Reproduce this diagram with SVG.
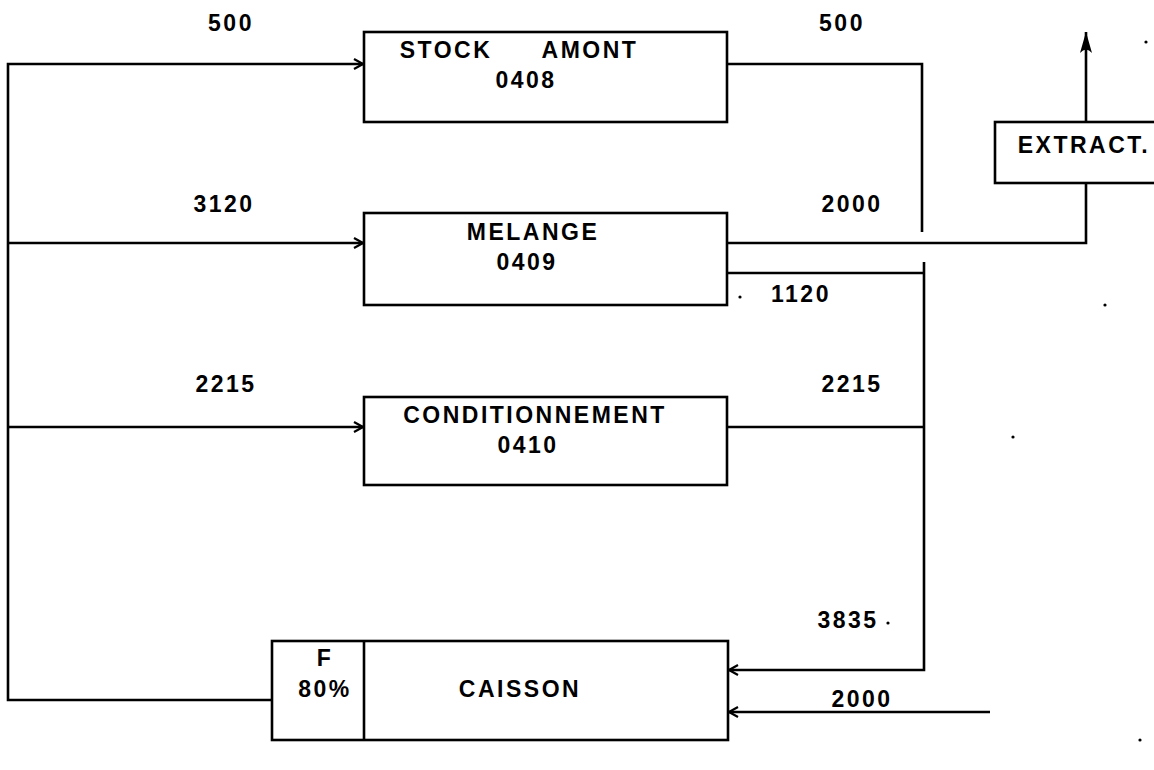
<svg xmlns="http://www.w3.org/2000/svg" width="1154" height="770" viewBox="0 0 1154 770">
<style>
.b{fill:#fff;stroke:#000;stroke-width:2.6}
.c{fill:none;stroke:#000;stroke-width:2.6}
text{font-family:"Liberation Sans",Arial,sans-serif;font-weight:bold;font-size:23px;letter-spacing:2.5px;fill:#000;text-anchor:middle}
</style>
<defs>
<marker id="v" viewBox="0 0 12 12" refX="11" refY="6" markerWidth="12" markerHeight="12" markerUnits="userSpaceOnUse" orient="auto">
<path d="M2,1 L11,6 L2,11" fill="none" stroke="#000" stroke-width="2.2"/>
</marker>
<marker id="f" viewBox="0 0 22 14" refX="21" refY="7" markerWidth="22" markerHeight="14" markerUnits="userSpaceOnUse" orient="auto">
<path d="M0,1 Q7,7 0,13 L21,7 Z" fill="#000"/>
</marker>
</defs>
<rect width="1154" height="770" fill="#fff"/>
<g id="connectors">
<path class="c" d="M272,700 H8 V64 H363" marker-end="url(#v)"/>
<path class="c" d="M8,243 H363" marker-end="url(#v)"/>
<path class="c" d="M8,427 H363" marker-end="url(#v)"/>
<path class="c" d="M727,64 H922 V232"/>
<path class="c" d="M727,243 H1086 V183"/>
<path class="c" d="M1086,122 V32" marker-end="url(#f)"/>
<path class="c" d="M727,273 H924"/>
<path class="c" d="M924,262 V670 H729" marker-end="url(#v)"/>
<path class="c" d="M727,427 H924"/>
<path class="c" d="M990,712 H729" marker-end="url(#v)"/>
<text x="231" y="31">500</text>
<text x="842" y="31">500</text>
<text x="224" y="212">3120</text>
<text x="852" y="212">2000</text>
<text x="801" y="302">1120</text>
<text x="226" y="392">2215</text>
<text x="852" y="392">2215</text>
<text x="848" y="628">3835</text>
<text x="862" y="707">2000</text>
</g>
<g id="stock">
<rect class="b" x="364" y="32" width="363" height="90"/>
<text x="446" y="58">STOCK</text>
<text x="590" y="58">AMONT</text>
<text x="526" y="88">0408</text>
</g>
<g id="melange">
<rect class="b" x="364" y="213" width="363" height="92"/>
<text x="533" y="240">MELANGE</text>
<text x="527" y="270">0409</text>
</g>
<g id="conditionnement">
<rect class="b" x="364" y="397" width="363" height="88"/>
<text x="535" y="423">CONDITIONNEMENT</text>
<text x="528" y="453">0410</text>
</g>
<g id="extract">
<rect class="b" x="995" y="122" width="170" height="61"/>
<text x="1084" y="153">EXTRACT.</text>
</g>
<g id="caisson">
<rect class="b" x="272" y="641" width="456" height="99"/>
<line class="c" x1="364" y1="641" x2="364" y2="740"/>
<text x="325" y="666">F</text>
<text x="325" y="697">80%</text>
<text x="520" y="697">CAISSON</text>
</g>
<g id="dots" fill="#000">
<circle cx="740" cy="297" r="1.6"/>
<circle cx="888" cy="623" r="1.6"/>
<circle cx="1146" cy="42" r="1.6"/>
<circle cx="1105" cy="305" r="1.6"/>
<circle cx="1013" cy="437" r="1.6"/>
<circle cx="1140" cy="740" r="1.6"/>
</g>
</svg>
